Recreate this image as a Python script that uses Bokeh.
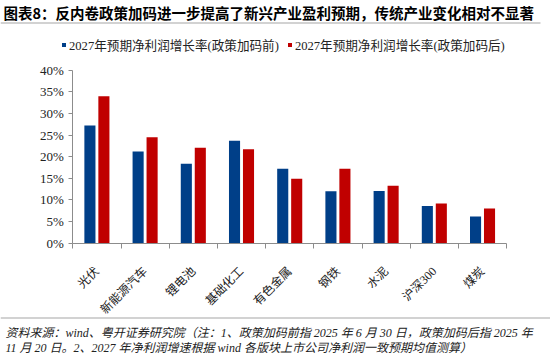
from bokeh.plotting import figure
from bokeh.models import (ColumnDataSource, FixedTicker, PrintfTickFormatter, Label,
                          BoxAnnotation, Legend, LegendItem, Range1d)
from bokeh.transform import dodge
from bokeh.embed import file_html
from bokeh.resources import INLINE
import math

categories = ["光伏", "新能源汽车", "锂电池", "基础化工", "有色金属", "钢铁", "水泥", "沪深300", "煤炭"]
before = [27.2, 21.2, 18.4, 23.7, 17.2, 12.0, 12.1, 8.6, 6.2]
after = [34.0, 24.5, 22.1, 21.7, 14.9, 17.2, 13.3, 9.2, 8.0]
y_ticks = [0, 5, 10, 15, 20, 25, 30, 35, 40]
series_names = ["2027年预期净利润增长率(政策加码前)", "2027年预期净利润增长率(政策加码后)"]
title_text = "图表8：反内卷政策加码进一步提高了新兴产业盈利预期，传统产业变化相对不显著"
source_lines = [
    "资料来源：wind、粤开证券研究院（注：1、政策加码前指 2025 年 6 月 30 日，政策加码后指 2025 年",
    "11 月 20 日。2、2027 年净利润增速根据 wind 各版块上市公司净利润一致预期均值测算）",
]

BLUE = "#003F88"
RED = "#C00000"
AXIS = "#8C8C8C"
CJK = "Noto Sans CJK SC"
SERIF = "Liberation Serif, Noto Sans CJK SC"

W, H = 550, 360
n = len(categories)
xs = list(range(n))
src = ColumnDataSource(dict(x=xs, before=before, after=after))

# the frame covers the whole canvas; axes are pinned inside it with fixed_location
p = figure(width=W, height=H, output_backend="svg", toolbar_location=None,
           x_range=Range1d(-2.0, 9.41), y_range=Range1d(-27.12, 56.12),
           min_border=0)
p.outline_line_color = None
p.grid.visible = False
p.background_fill_color = "white"
p.border_fill_color = "white"

r1 = p.vbar(x=dodge("x", -0.145), top="before", width=0.23, source=src,
            fill_color=BLUE, line_color=None)
r2 = p.vbar(x=dodge("x", 0.145), top="after", width=0.23, source=src,
            fill_color=RED, line_color=None)

# y axis
ya = p.yaxis[0]
ya.fixed_location = -0.5
ya.bounds = (0, 40)
ya.ticker = FixedTicker(ticks=y_ticks, minor_ticks=[])
ya.formatter = PrintfTickFormatter(format="%d%%")
ya.axis_line_color = AXIS
ya.major_tick_line_color = AXIS
ya.major_tick_in = 0
ya.major_tick_out = 4
ya.minor_tick_line_color = None
ya.major_label_text_font = SERIF
ya.major_label_text_font_size = "13px"
ya.major_label_text_color = "#222222"
ya.major_label_standoff = 5

# x axis
xa = p.xaxis[0]
xa.fixed_location = 0
xa.bounds = (-0.5, n - 0.5)
xa.ticker = FixedTicker(ticks=xs, minor_ticks=[i - 0.5 for i in range(n + 1)])
xa.major_label_overrides = {i: c for i, c in zip(xs, categories)}
xa.major_label_orientation = math.pi / 4
xa.axis_line_color = AXIS
xa.major_tick_line_color = None
xa.major_tick_in = 0
xa.major_tick_out = 0
xa.minor_tick_line_color = AXIS
xa.minor_tick_in = 0
xa.minor_tick_out = 5
xa.major_label_text_font = SERIF
xa.major_label_text_font_size = "12px"
xa.major_label_text_color = "#222222"
xa.major_label_standoff = 21

# legend (screen units, origin bottom-left of canvas)
legend = Legend(items=[LegendItem(label=series_names[0], renderers=[r1]),
                       LegendItem(label=series_names[1], renderers=[r2])],
                orientation="horizontal", location=(61, 306),
                glyph_width=5, glyph_height=5, label_height=14, label_standoff=3,
                spacing=8, padding=0, margin=0, border_line_color=None,
                background_fill_alpha=0,
                label_text_font=SERIF, label_text_font_size="12.6px",
                label_text_color="#222222")
p.add_layout(legend, "center")

# title and its rule
p.add_layout(Label(x=3, y=H - 12, x_units="screen", y_units="screen", text=title_text,
                   text_font=CJK, text_font_size="14.5px", text_font_style="bold",
                   text_color="#000000", text_align="left", text_baseline="middle"))
p.add_layout(BoxAnnotation(left=0, right=540, bottom=H - 23, top=H - 22,
                           left_units="screen", right_units="screen",
                           top_units="screen", bottom_units="screen",
                           fill_color="#A6A6A6", fill_alpha=1, line_color=None))

# footer rule and source notes
p.add_layout(BoxAnnotation(left=0, right=W, bottom=H - 318, top=H - 317,
                           left_units="screen", right_units="screen",
                           top_units="screen", bottom_units="screen",
                           fill_color="#A6A6A6", fill_alpha=1, line_color=None))
for i, line in enumerate(source_lines):
    p.add_layout(Label(x=5, y=H - 332 - 15 * i, x_units="screen", y_units="screen", text=line,
                       text_font=SERIF, text_font_size="12px", text_font_style="italic",
                       text_color="#222222", text_align="left", text_baseline="middle"))

open("out.html", "w").write(file_html(p, INLINE))
